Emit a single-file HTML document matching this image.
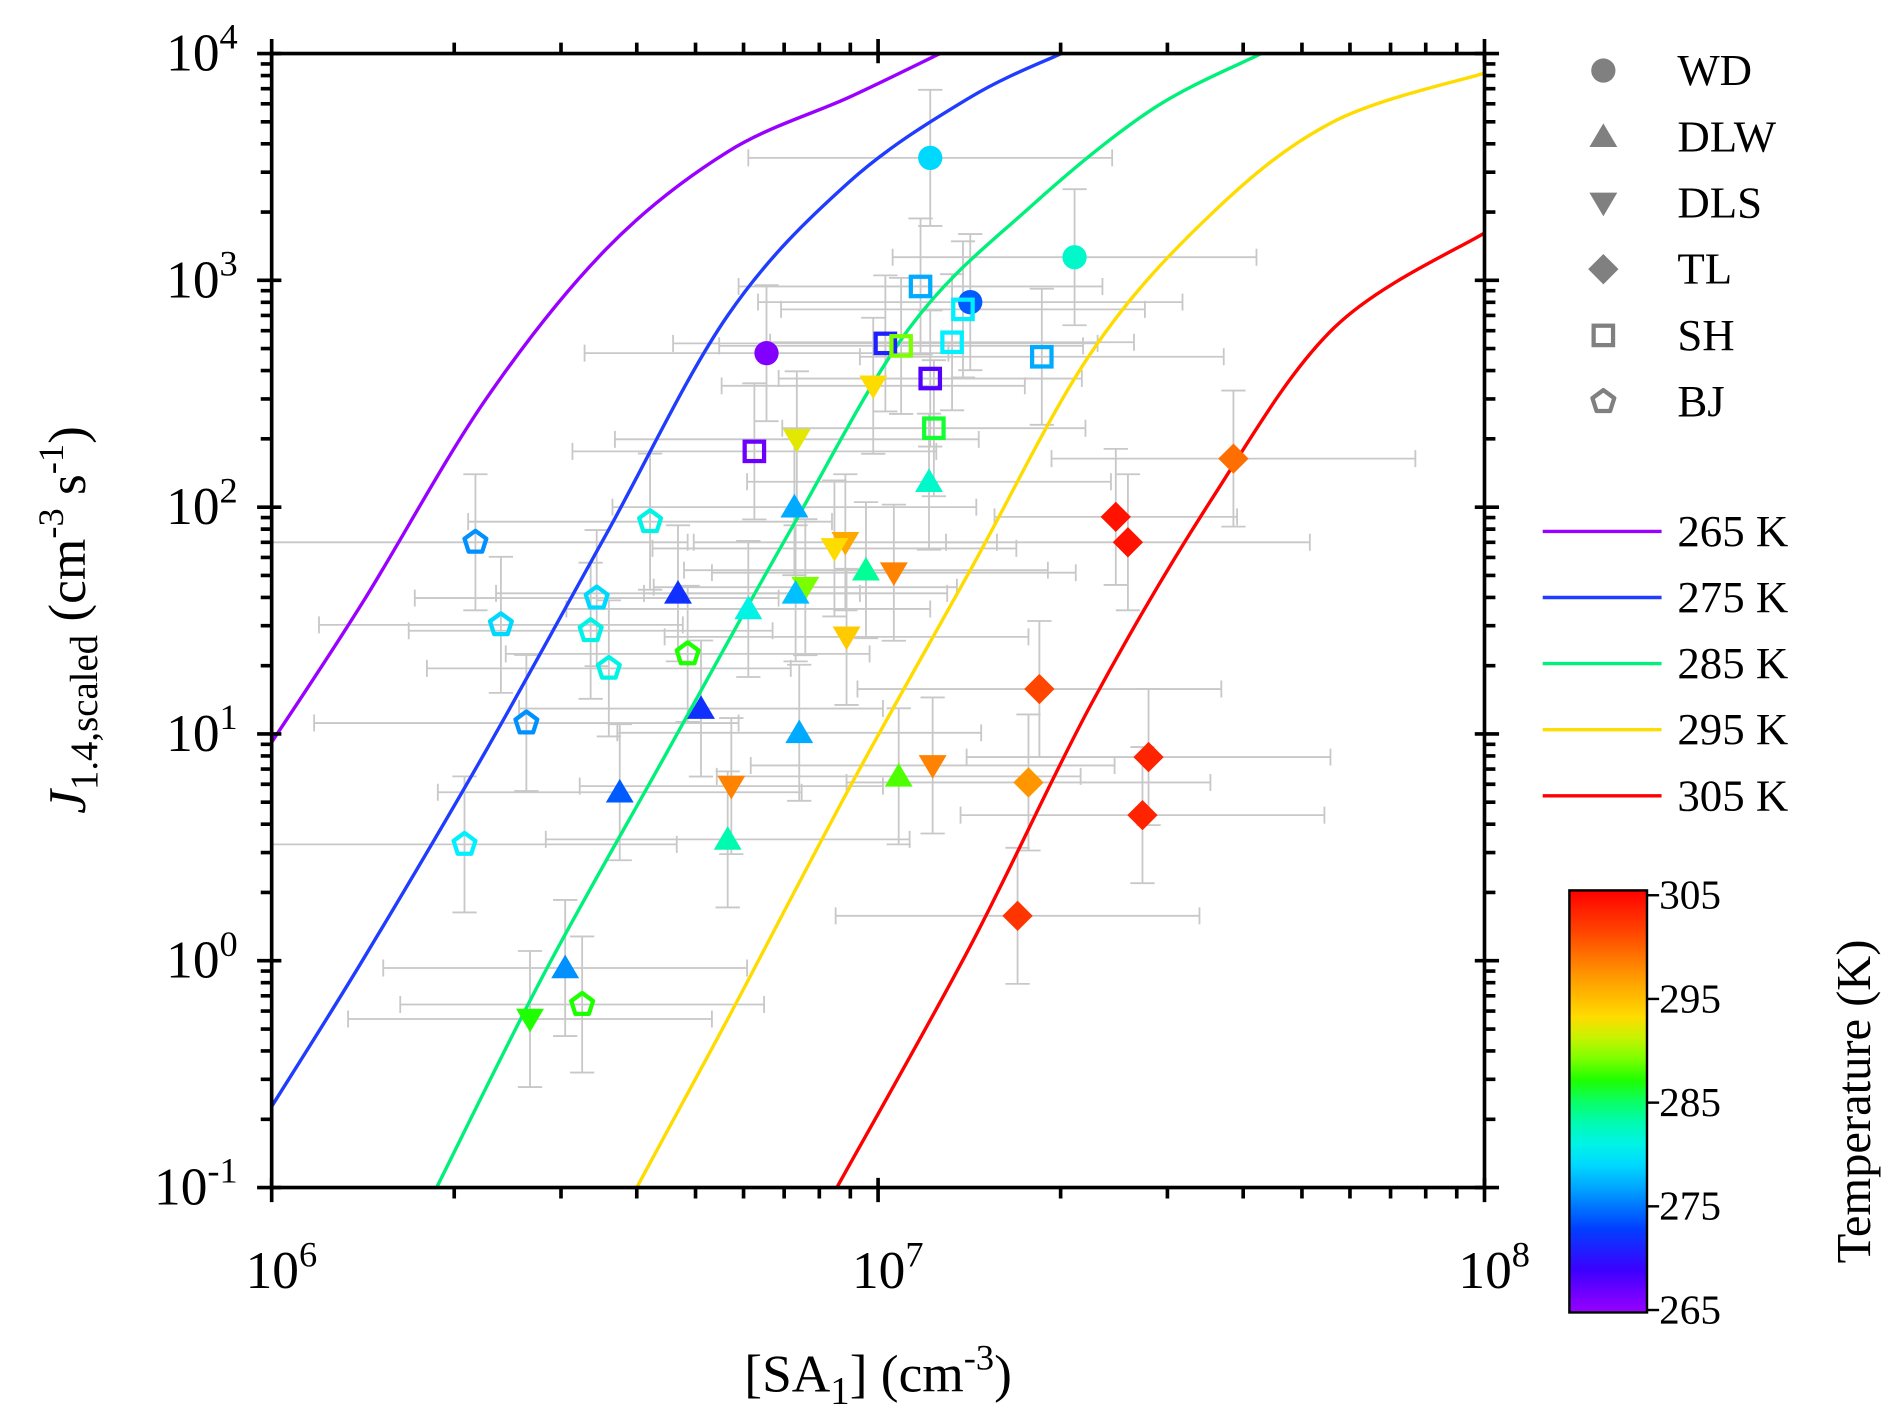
<!DOCTYPE html>
<html><head><meta charset="utf-8"><style>
html,body{margin:0;padding:0;background:#fff;}
svg{display:block;}
svg text{font-family:"Liberation Serif","Times New Roman",serif;}
</style></head><body>
<svg id="chart" width="1892" height="1423" viewBox="0 0 1560 1173" font-family="Liberation Serif, serif" xmlns="http://www.w3.org/2000/svg">
<g id="errs"></g>
<g id="lines"></g>
<g id="pts"></g>
<g id="axes"></g>
<g id="legend"></g>
<g id="cbar"></g>
</svg>
<script>
// ---- data (log10 units) ----
const lineTemps = [265, 275, 285, 295, 305];
const lineColors = ['#9a00ff', '#1f3cff', '#00f07a', '#ffdc00', '#ff0000'];
const line265X = [6.0, 6.152, 6.352, 6.552, 6.752, 6.952, 7.102];
const line265Y = [0.963, 1.588, 2.471, 3.139, 3.567, 3.807, 4.0];
const line275X = [6.0, 6.152, 6.352, 6.552, 6.752, 6.952, 7.152, 7.302];
const line275Y = [-0.642, 0.011, 0.92, 1.882, 2.845, 3.433, 3.807, 4.0];
const line285X = [6.272, 6.452, 6.652, 6.852, 7.052, 7.252, 7.452, 7.632];
const line285Y = [-1.0, -0.043, 0.92, 1.882, 2.791, 3.326, 3.754, 4.0];
const line295X = [6.602, 6.752, 6.952, 7.152, 7.352, 7.552, 7.752, 8.0];
const line295Y = [-1.0, -0.257, 0.759, 1.722, 2.684, 3.299, 3.701, 3.914];
const line305X = [6.932, 7.152, 7.352, 7.552, 7.752, 8.0];
const line305Y = [-1.0, 0.064, 1.134, 2.043, 2.791, 3.209];

const ptType = ['WD','WD','WD','WD',
 'SH','SH','SH','SH','SH','SH','SH','SH','SH',
 'DLS','DLS','DLS','DLS','DLS','DLS','DLS','DLS','DLS','DLS',
 'DLW','DLW','DLW','DLW','DLW','DLW','DLW','DLW','DLW','DLW','DLW','DLW',
 'TL','TL','TL','TL','TL','TL','TL','TL',
 'BJ','BJ','BJ','BJ','BJ','BJ','BJ','BJ','BJ','BJ'];
const ptLogSA = [6.816,7.086,7.152,7.324,
 6.796,7.012,7.07,7.038,7.086,7.14,7.122,7.27,7.092,
 6.992,6.866,6.946,6.928,7.026,6.88,6.948,6.758,7.09,6.426,
 6.862,6.67,6.864,6.786,6.98,6.708,6.87,6.574,6.752,7.034,6.484,7.084,
 7.392,7.412,7.586,7.266,7.446,7.436,7.248,7.23,
 6.336,6.378,6.536,6.526,6.556,6.42,6.624,6.686,6.318,6.512];
const ptLogJ = [2.679,3.54,2.904,3.102,
 2.246,2.722,2.973,2.711,2.567,2.872,2.727,2.663,2.348,
 2.535,2.299,1.845,1.818,1.711,1.647,1.428,0.77,0.861,-0.257,
 2.0,1.62,1.62,1.551,1.722,1.112,1.005,0.743,0.535,0.813,-0.032,2.112,
 1.957,1.845,2.214,1.198,0.898,0.642,0.786,0.198,
 1.845,1.481,1.599,1.455,1.289,1.048,1.936,1.353,0.513,-0.193];
const ptTemp = [266,279,274,282,
 267,271,277,289,268,280,280,277,286,
 293,292,296,293,298,289,294,298,298,287,
 277,272,278,281,284,272,277,274,283,288,276,282,
 304,304,299,301,303,303,297,302,
 276,279,279,281,281,276,281,287,280,287];
const ptXErr = [0.3,0.3,0.35,0.3, 0.3,0.35,0.3,0.3,0.25,0.3,0.3,0.3,0.25,
 0.25,0.3,0.25,0.3,0.3,0.25,0.3,0.25,0.3,0.3,
 0.3,0.3,0.25,0.3,0.3,0.3,0.3,0.3,0.3,0.3,0.3,0.3,
 0.2,0.3,0.3,0.3,0.3,0.3,0.3,0.3,
 0.35,0.3,0.3,0.3,0.3,0.35,0.3,0.3,0.35,0.3];
const ptYErr = [0.3,0.3,0.3,0.3, 0.3,0.3,0.3,0.3,0.3,0.3,0.3,0.3,0.3,
 0.3,0.3,0.3,0.3,0.3,0.3,0.3,0.3,0.3,0.3,
 0.3,0.3,0.3,0.3,0.3,0.3,0.3,0.3,0.3,0.3,0.3,0.3,
 0.3,0.3,0.3,0.3,0.3,0.3,0.3,0.3,
 0.3,0.3,0.3,0.3,0.3,0.3,0.3,0.3,0.3,0.3];
const xTickExp = [6, 7, 8];
const yTickExp = [4, 3, 2, 1, 0, -1];
const cbTicks = [305, 295, 285, 275, 265];
const legendTypes = ['WD','DLW','DLS','TL','SH','BJ'];

// ---- axes functions ----
const X0=224, X1=1224, Y0=979, Y1=44;
const sx = lx => X0 + (lx-6)/2*(X1-X0);
const sy = ly => Y0 - (ly+1)/5*(Y0-Y1);
const NS='http://www.w3.org/2000/svg';
const FF='Liberation Serif, Times New Roman, serif';
function mk(tag, attrs, parent){const e=document.createElementNS(NS,tag);for(const k in attrs)e.setAttribute(k,attrs[k]);if(tag==='text')e.setAttribute('font-family',FF);parent.appendChild(e);return e;}
const stops=[[265,[153,0,255]],[269,[60,0,255]],[273,[0,64,255]],[277,[0,170,255]],[280,[0,240,255]],[284,[0,255,150]],[287,[30,255,0]],[290,[170,255,0]],[293,[255,220,0]],[297,[255,150,0]],[301,[255,70,0]],[305,[255,0,0]]];
function cmap(t){t=Math.max(265,Math.min(305,t));for(let i=0;i<stops.length-1;i++){const a=stops[i],b=stops[i+1];if(t<=b[0]){const f=(t-a[0])/(b[0]-a[0]);const c=a[1].map((v,j)=>Math.round(v+(b[1][j]-v)*f));return `rgb(${c[0]},${c[1]},${c[2]})`;}}return 'rgb(255,0,0)';}

function marker(type, cx, cy, col, parent, r){
  r=r||10; let e;
  if(type==='WD') e=mk('circle',{cx,cy,r:r,fill:col},parent);
  else if(type==='DLW') e=mk('polygon',{points:`${cx},${cy-r*1.1} ${cx+r*1.15},${cy+r*0.85} ${cx-r*1.15},${cy+r*0.85}`,fill:col},parent);
  else if(type==='DLS') e=mk('polygon',{points:`${cx},${cy+r*1.1} ${cx+r*1.15},${cy-r*0.85} ${cx-r*1.15},${cy-r*0.85}`,fill:col},parent);
  else if(type==='TL') e=mk('polygon',{points:`${cx},${cy-r*1.25} ${cx+r*1.25},${cy} ${cx},${cy+r*1.25} ${cx-r*1.25},${cy}`,fill:col},parent);
  else if(type==='SH') e=mk('rect',{x:cx-r*0.8,y:cy-r*0.8,width:r*1.6,height:r*1.6,fill:'none',stroke:col,'stroke-width':3.5},parent);
  else { let p=[];for(let k=0;k<5;k++){const a=-Math.PI/2+k*2*Math.PI/5;p.push((cx+r*0.95*Math.cos(a)).toFixed(1)+','+(cy+r*0.95*Math.sin(a)).toFixed(1));}
    e=mk('polygon',{points:p.join(' '),fill:'none',stroke:col,'stroke-width':3.5,'stroke-linejoin':'round'},parent);}
  return e;
}

// error bars
const gE=document.getElementById('errs');
for(let i=0;i<ptType.length;i++){
  const x=sx(ptLogSA[i]), y=sy(ptLogJ[i]);
  const xl=Math.max(X0,sx(ptLogSA[i]-ptXErr[i])), xr=sx(ptLogSA[i]+ptXErr[i]);
  const yt=sy(ptLogJ[i]+ptYErr[i]), yb=sy(ptLogJ[i]-ptYErr[i]);
  const g=mk('g',{stroke:'#c8c8c8','stroke-width':1.5,fill:'none'},gE);
  
  
  mk('path',{d:`M${xl},${y}H${xr}M${xl},${y-7}V${y+7}M${xr},${y-7}V${y+7}M${x},${yt}V${yb}M${x-10},${yt}H${x+10}M${x-10},${yb}H${x+10}`},g);
}
// smooth lines (Catmull-Rom)
function smooth(P){let d=`M${P[0][0].toFixed(1)},${P[0][1].toFixed(1)}`;
  for(let i=0;i<P.length-1;i++){const p0=P[Math.max(0,i-1)],p1=P[i],p2=P[i+1],p3=P[Math.min(P.length-1,i+2)];
    const c1=[p1[0]+(p2[0]-p0[0])/6,p1[1]+(p2[1]-p0[1])/6],c2=[p2[0]-(p3[0]-p1[0])/6,p2[1]-(p3[1]-p1[1])/6];
    d+=`C${c1[0].toFixed(1)},${c1[1].toFixed(1)} ${c2[0].toFixed(1)},${c2[1].toFixed(1)} ${p2[0].toFixed(1)},${p2[1].toFixed(1)}`;}
  return d;}
const gL=document.getElementById('lines');
const LX=[line265X,line275X,line285X,line295X,line305X], LY=[line265Y,line275Y,line285Y,line295Y,line305Y];
for(let k=0;k<5;k++){
  const P=LX[k].map((v,i)=>[sx(v),sy(LY[k][i])]);
  const p=mk('path',{d:smooth(P),fill:'none',stroke:lineColors[k],'stroke-width':2.8,'stroke-linejoin':'round'},gL);
  
  
}
// points
const gP=document.getElementById('pts');
for(let i=0;i<ptType.length;i++){
  const e=marker(ptType[i],sx(ptLogSA[i]),sy(ptLogJ[i]),cmap(ptTemp[i]),gP,10);
  
  
}
// axes
const gA=document.getElementById('axes');
mk('rect',{x:X0,y:Y1,width:X1-X0,height:Y0-Y1,fill:'none',stroke:'#000','stroke-width':3},gA);
let tp='';
for(let d=6;d<8;d++)for(let m=1;m<=10;m++){const x=sx(d+Math.log10(m));
  if(m===1||m===10){tp+=`M${x},${Y0-8}V${Y0+12}M${x},${Y1+8}V${Y1-12}`;}else{tp+=`M${x},${Y0}V${Y0+9}M${x},${Y1}V${Y1-9}`;}}
for(let d=-1;d<4;d++)for(let m=1;m<=10;m++){const y=sy(d+Math.log10(m));
  if(m===1||m===10){tp+=`M${X0+8},${y}H${X0-12}M${X1-8},${y}H${X1+12}`;}else{tp+=`M${X0},${y}H${X0-9}M${X1},${y}H${X1+9}`;}}
mk('path',{d:tp,stroke:'#000','stroke-width':3,fill:'none'},gA);
xTickExp.forEach(e=>{const t=mk('text',{x:sx(e)+8,y:1062,'font-size':44,'text-anchor':'middle'},gA);
  
  t.innerHTML=`10<tspan dy="-18" font-size="30">${e}</tspan>`;});
yTickExp.forEach(e=>{const t=mk('text',{x:196,y:sy(e)+14,'font-size':44,'text-anchor':'end'},gA);
  
  t.innerHTML=`10<tspan dy="-18" font-size="30">${e}</tspan>`;});
let xt=mk('text',{x:724,y:1147,'font-size':44,'text-anchor':'middle'},gA);

xt.innerHTML='[SA<tspan dy="10" font-size="32">1</tspan><tspan dy="-10">] (cm</tspan><tspan dy="-18" font-size="30">-3</tspan><tspan dy="18">)</tspan>';
let yt=mk('text',{x:0,y:0,'font-size':44,'text-anchor':'middle',transform:'translate(70,511) rotate(-90)'},gA);

yt.innerHTML='<tspan font-style="italic">J</tspan><tspan dy="10" font-size="32">1.4,scaled</tspan><tspan dy="-10"> (cm</tspan><tspan dy="-18" font-size="30">-3</tspan><tspan dy="18"> s</tspan><tspan dy="-18" font-size="30">-1</tspan><tspan dy="18">)</tspan>';
// legend
const gG=document.getElementById('legend');
legendTypes.forEach((t,i)=>{const y=58+i*54.6;
  const m=marker(t,1322,y,'#808080',gG,10);
  
  const tx=mk('text',{x:1383,y:y+12,'font-size':37},gG);tx.textContent=t;
  });
lineTemps.forEach((t,i)=>{const y=438+i*54.5;
  const l=mk('line',{x1:1272,x2:1370,y1:y,y2:y,stroke:lineColors[i],'stroke-width':2.8},gG);
  
  const tx=mk('text',{x:1383,y:y+12,'font-size':37},gG);tx.textContent=t+' K';
  });
// colorbar
const gC=document.getElementById('cbar');
const defs=mk('defs',{},gC);const lg=mk('linearGradient',{id:'cg',x1:0,y1:1,x2:0,y2:0},defs);
for(let t=265;t<=305;t+=2)mk('stop',{offset:((t-265)/40).toFixed(3),'stop-color':cmap(t)},lg);
const CB0=1082,CB1=734;
const cr=mk('rect',{x:1294,y:CB1,width:64,height:CB0-CB1,fill:'url(#cg)',stroke:'#000','stroke-width':2},gC);

const cy=t=>CB0-2-(t-265)/40*(CB0-CB1-6);
cbTicks.forEach(t=>{const y=cy(t);mk('line',{x1:1358,x2:1368,y1:y,y2:y,stroke:'#000','stroke-width':2},gC);
  const tx=mk('text',{x:1368,y:y+11,'font-size':34},gC);tx.textContent=t;
  });
const ct=mk('text',{x:0,y:0,'font-size':40,'text-anchor':'middle',transform:'translate(1542,908) rotate(-90)'},gC);
ct.textContent='Temperature (K)';
</script>
</body></html>
